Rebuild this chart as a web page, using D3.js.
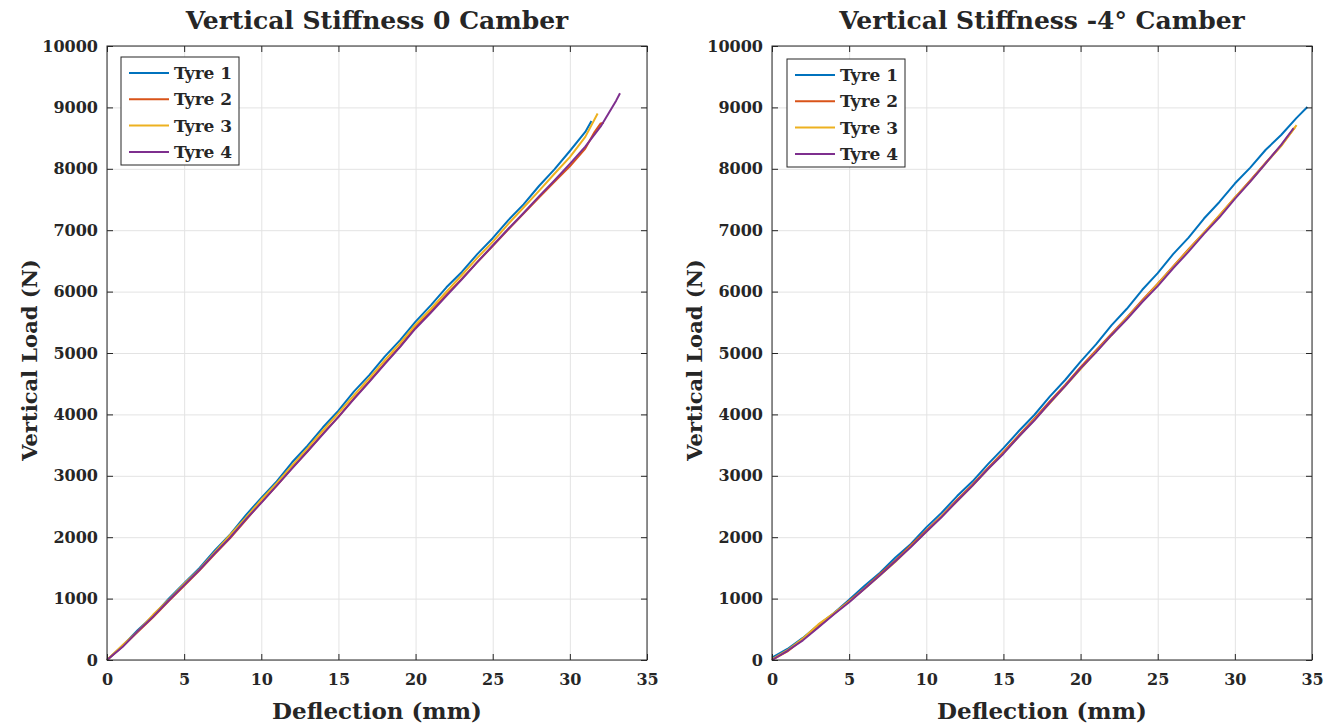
<!DOCTYPE html>
<html>
<head>
<meta charset="utf-8">
<script src="https://cdn.jsdelivr.net/npm/d3@7"></script>
<style>
  body { margin: 0; background: #fff; }
  text { font-family: "DejaVu Serif", serif; font-weight: bold; fill: #262626; }
  .grid line { stroke: #e3e3e3; stroke-width: 1; }
  .grid path { display: none; }
  .tickAxis path { display: none; }
  .tickAxis line { stroke: #262626; }
</style>
</head>
<body>
<div id="chart"></div>
<script>
'use strict';

// ---------------- data -----------------
var tyreNames   = ['Tyre 1', 'Tyre 2', 'Tyre 3', 'Tyre 4'];
var tyreColours = ['#0072BD', '#D95319', '#EDB120', '#7E2F8E'];
var xTicks = [0, 5, 10, 15, 20, 25, 30, 35];
var yTicks = [0, 1000, 2000, 3000, 4000, 5000, 6000, 7000, 8000, 9000, 10000];
var titles = ['Vertical Stiffness 0 Camber', 'Vertical Stiffness -4\u00b0 Camber'];

// [deflection mm, load N]
var zeroCamberTyre1 = [[0,0],[1,230],[2,490],[3,720],[4,1000],[5,1250],[6,1500],[7,1790],[8,2050],[9,2360],[10,2640],[11,2910],[12,3220],[13,3490],[14,3790],[15,4060],[16,4370],[17,4640],[18,4940],[19,5210],[20,5510],[21,5780],[22,6070],[23,6320],[24,6610],[25,6870],[26,7160],[27,7420],[28,7720],[29,7990],[30,8290],[31,8600],[31.4,8780]];
var zeroCamberTyre2 = [[0,0],[1,220],[2,460],[3,700],[4,960],[5,1210],[6,1460],[7,1730],[8,1990],[9,2280],[10,2570],[11,2840],[12,3130],[13,3400],[14,3690],[15,3960],[16,4260],[17,4540],[18,4830],[19,5110],[20,5420],[21,5680],[22,5950],[23,6210],[24,6480],[25,6740],[26,7010],[27,7270],[28,7530],[29,7790],[30,8040],[31,8330],[31.6,8600],[32,8740],[32.2,8750]];
var zeroCamberTyre3 = [[0,0],[1,240],[2,470],[3,740],[4,980],[5,1240],[6,1480],[7,1760],[8,2040],[9,2320],[10,2610],[11,2880],[12,3170],[13,3450],[14,3740],[15,4020],[16,4310],[17,4590],[18,4880],[19,5160],[20,5460],[21,5720],[22,6000],[23,6270],[24,6550],[25,6810],[26,7100],[27,7370],[28,7640],[29,7920],[30,8190],[31,8520],[31.8,8900]];
var zeroCamberTyre4 = [[0,0],[1,210],[2,470],[3,710],[4,970],[5,1220],[6,1470],[7,1740],[8,2000],[9,2290],[10,2560],[11,2840],[12,3120],[13,3400],[14,3680],[15,3960],[16,4250],[17,4530],[18,4820],[19,5100],[20,5400],[21,5660],[22,5930],[23,6200],[24,6480],[25,6750],[26,7020],[27,7280],[28,7550],[29,7810],[30,8080],[31,8360],[32,8690],[33,9110],[33.25,9230]];

var negCamberTyre1 = [[0,40],[1,180],[2,360],[3,570],[4,760],[5,980],[6,1210],[7,1420],[8,1670],[9,1890],[10,2160],[11,2400],[12,2670],[13,2910],[14,3190],[15,3450],[16,3730],[17,3990],[18,4290],[19,4560],[20,4860],[21,5140],[22,5450],[23,5720],[24,6030],[25,6300],[26,6610],[27,6880],[28,7190],[29,7460],[30,7760],[31,8020],[32,8310],[33,8550],[34,8830],[34.7,9006]];
var negCamberTyre2 = [[0,0],[1,140],[2,340],[3,540],[4,750],[5,960],[6,1170],[7,1400],[8,1620],[9,1870],[10,2110],[11,2350],[12,2610],[13,2860],[14,3130],[15,3390],[16,3660],[17,3930],[18,4210],[19,4480],[20,4770],[21,5040],[22,5310],[23,5580],[24,5860],[25,6130],[26,6410],[27,6690],[28,6960],[29,7240],[30,7530],[31,7810],[32,8100],[33,8380],[33.9,8680]];
var negCamberTyre3 = [[0,10],[1,160],[2,350],[3,580],[4,760],[5,950],[6,1160],[7,1380],[8,1600],[9,1850],[10,2090],[11,2340],[12,2590],[13,2840],[14,3110],[15,3370],[16,3640],[17,3910],[18,4180],[19,4460],[20,4740],[21,5020],[22,5290],[23,5570],[24,5840],[25,6120],[26,6400],[27,6680],[28,6960],[29,7240],[30,7530],[31,7800],[32,8090],[33,8370],[34,8710]];
var negCamberTyre4 = [[0,0],[1,150],[2,320],[3,530],[4,740],[5,940],[6,1160],[7,1380],[8,1610],[9,1840],[10,2090],[11,2330],[12,2590],[13,2840],[14,3110],[15,3360],[16,3640],[17,3900],[18,4190],[19,4460],[20,4750],[21,5010],[22,5290],[23,5550],[24,5830],[25,6090],[26,6380],[27,6650],[28,6940],[29,7210],[30,7510],[31,7790],[32,8090],[33,8390],[33.8,8660]];

// ---------------- chart -----------------
function stiffnessPlot(left, top, legendPos)
{
    var scope = this;
    var exports = {};

    scope.left = left;
    scope.top = top;
    scope.cw = 540;
    scope.ch = 614;
    scope.legendPos = legendPos;

    scope.xScale = d3.scaleLinear().domain([0, 35]).range([0, scope.cw]);
    scope.yScale = d3.scaleLinear().domain([0, 10000]).range([scope.ch, 0]);

    scope.appendGrid = function(g)
    {
        g.append('g')
            .attr('class', 'grid')
            .attr('transform', 'translate(0,' + scope.ch + ')')
            .call(d3.axisBottom(scope.xScale).tickValues(xTicks).tickSize(-scope.ch).tickFormat(''));
        g.append('g')
            .attr('class', 'grid')
            .call(d3.axisLeft(scope.yScale).tickValues(yTicks).tickSize(-scope.cw).tickFormat(''));
    }

    scope.appendLines = function(g, series)
    {
        var line = d3.line()
            .x(function(d){ return scope.xScale(d[0]); })
            .y(function(d){ return scope.yScale(d[1]); });

        g.selectAll('path.tyre')
            .data(series)
            .enter()
            .append('path')
            .attr('class', 'tyre')
            .attr('d', line)
            .attr('fill', 'none')
            .attr('stroke', function(d, i){ return tyreColours[i]; })
            .attr('stroke-width', 2)
            .attr('stroke-linejoin', 'round');
    }

    scope.appendAxes = function(g)
    {
        var xb = g.append('g').attr('class', 'tickAxis')
            .attr('transform', 'translate(0,' + scope.ch + ')')
            .call(d3.axisBottom(scope.xScale).tickValues(xTicks).tickFormat(d3.format('d'))
                .tickSizeInner(-6).tickSizeOuter(0).tickPadding(14));
        xb.selectAll('text').attr('font-size', 16).attr('fill', '#262626');

        g.append('g').attr('class', 'tickAxis')
            .call(d3.axisTop(scope.xScale).tickValues(xTicks).tickSizeInner(-6).tickSizeOuter(0).tickFormat(''));

        var yl = g.append('g').attr('class', 'tickAxis')
            .call(d3.axisLeft(scope.yScale).tickValues(yTicks).tickFormat(d3.format('d'))
                .tickSizeInner(-6).tickSizeOuter(0).tickPadding(9));
        yl.selectAll('text').attr('font-size', 16).attr('fill', '#262626');

        g.append('g').attr('class', 'tickAxis')
            .attr('transform', 'translate(' + scope.cw + ',0)')
            .call(d3.axisRight(scope.yScale).tickValues(yTicks).tickSizeInner(-6).tickSizeOuter(0).tickFormat(''));

        g.append('rect')
            .attr('x', 0).attr('y', 0)
            .attr('width', scope.cw).attr('height', scope.ch)
            .attr('fill', 'none')
            .attr('stroke', '#262626')
            .attr('stroke-width', 1);
    }

    scope.appendLegend = function(g)
    {
        var lg = g.append('g')
            .attr('transform', 'translate(' + scope.legendPos[0] + ',' + scope.legendPos[1] + ')');

        lg.append('rect')
            .attr('width', 118).attr('height', 108)
            .attr('fill', '#fff')
            .attr('stroke', '#262626')
            .attr('stroke-width', 1);

        var row = lg.selectAll('g.row')
            .data(tyreNames)
            .enter()
            .append('g')
            .attr('transform', function(d, i){ return 'translate(0,' + (16 + i * 26.3) + ')'; });

        row.append('line')
            .attr('x1', 8).attr('x2', 48)
            .attr('stroke', function(d, i){ return tyreColours[i]; })
            .attr('stroke-width', 2);

        row.append('text')
            .attr('x', 53).attr('y', 6)
            .attr('font-size', 17)
            .text(function(d){ return d; });
    }

    scope.appendLabels = function(svg, title)
    {
        var cx = scope.left + scope.cw / 2;
        svg.append('text')
            .attr('x', cx).attr('y', 29)
            .attr('text-anchor', 'middle')
            .attr('font-size', 25)
            .attr('fill', '#000')
            .text(title);

        svg.append('text')
            .attr('x', cx).attr('y', 719)
            .attr('text-anchor', 'middle')
            .attr('font-size', 23)
            .text('Deflection (mm)');

        svg.append('text')
            .attr('transform', 'translate(' + (scope.left - 70) + ',' + (scope.top + 314) + ') rotate(-90)')
            .attr('text-anchor', 'middle')
            .attr('font-size', 21)
            .text('Vertical Load (N)');
    }

    //------------- exported API -----------------------------------

    exports.run = function(svg, series, title)
    {
        var g = svg.append('g')
            .attr('transform', 'translate(' + scope.left + ',' + scope.top + ')');

        scope.appendGrid(g);
        scope.appendLines(g, series);
        scope.appendAxes(g);
        scope.appendLegend(g);
        scope.appendLabels(svg, title);
    }

    return exports;
}

var svg = d3.select('#chart').append('svg')
    .attr('width', 1332)
    .attr('height', 727)
    .style('background', '#fff');

var leftPlot = new stiffnessPlot(107, 46, [14, 11]);
leftPlot.run(svg, [zeroCamberTyre1, zeroCamberTyre2, zeroCamberTyre3, zeroCamberTyre4], titles[0]);

var rightPlot = new stiffnessPlot(772, 46, [15, 13]);
rightPlot.run(svg, [negCamberTyre1, negCamberTyre2, negCamberTyre3, negCamberTyre4], titles[1]);
</script>
</body>
</html>
